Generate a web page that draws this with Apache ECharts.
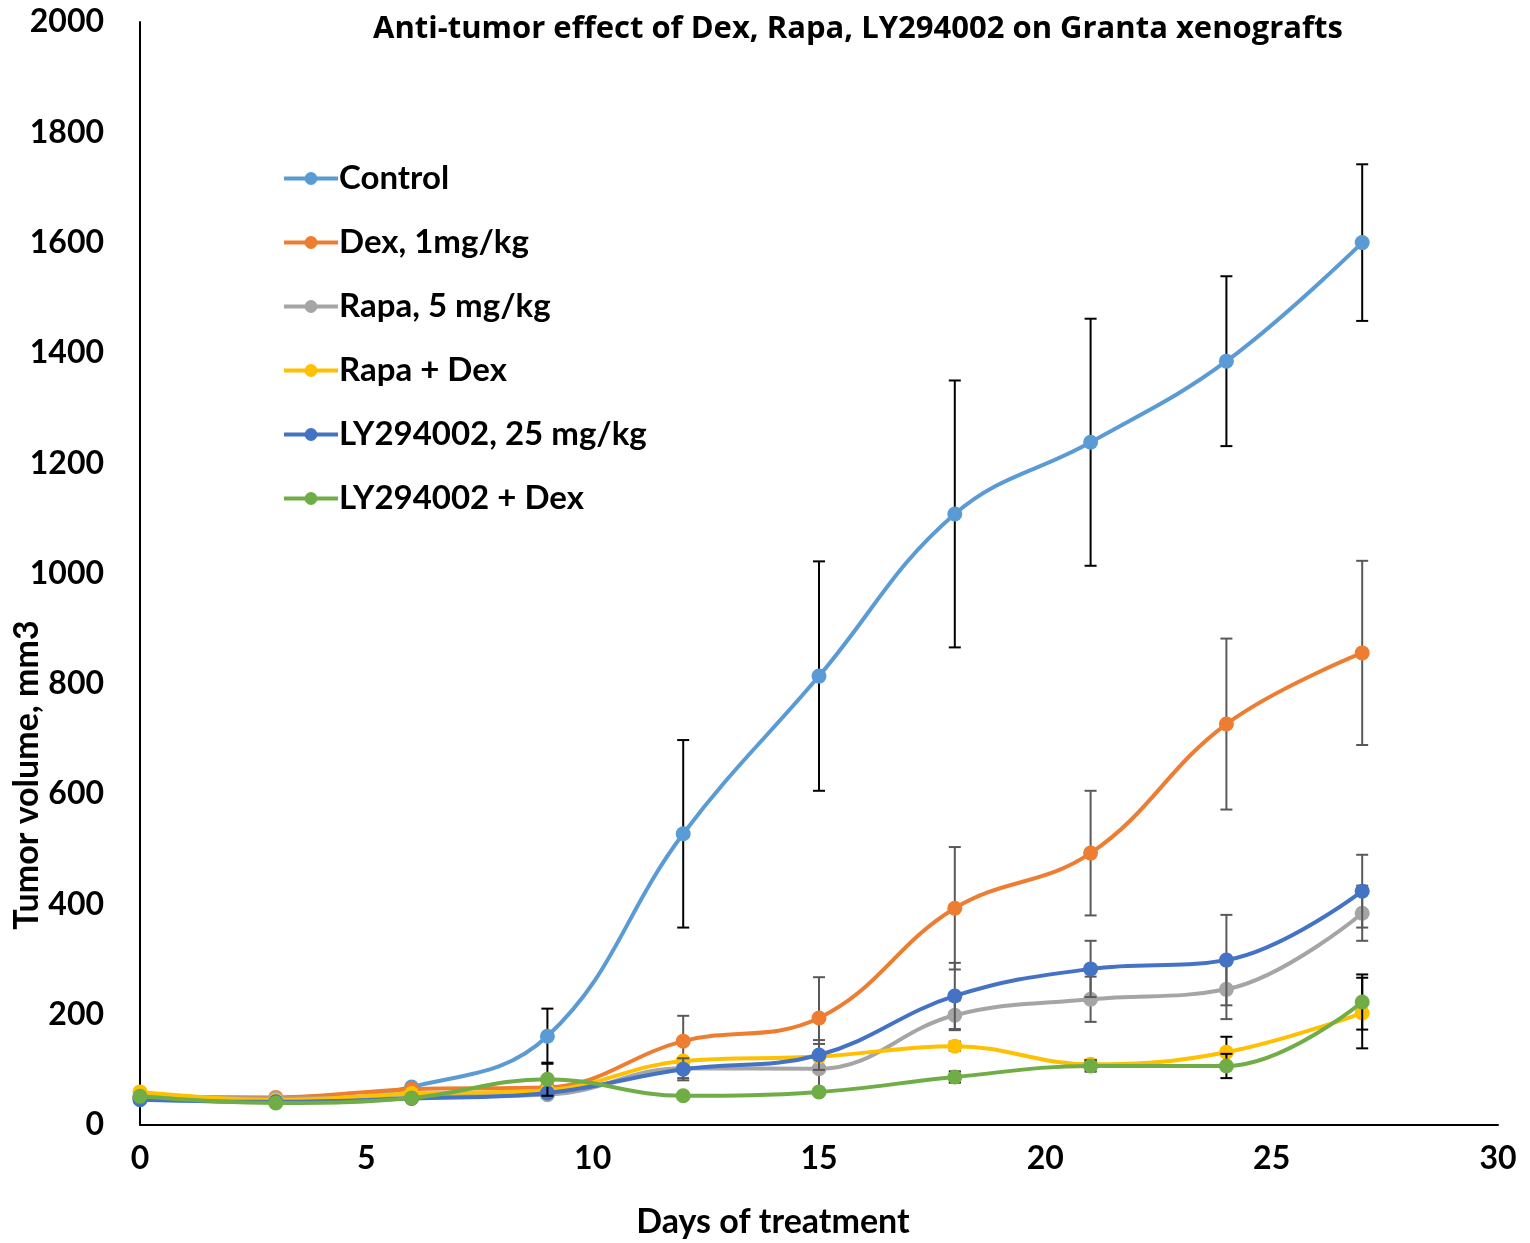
<!DOCTYPE html>
<html><head><meta charset="utf-8">
<script src="https://cdn.jsdelivr.net/npm/echarts@6/dist/echarts.min.js"></script>
<style>html,body{margin:0;padding:0;background:#fff}#c{width:1530px;height:1243px}</style>
</head><body><div id="c"></div>
<script>
var days = [0, 3, 6, 9, 12, 15, 18, 21, 24, 27];
var seriesNames = ['Control', 'Dex, 1mg/kg', 'Rapa, 5 mg/kg', 'Rapa + Dex', 'LY294002, 25 mg/kg', 'LY294002 + Dex'];
var control    = [48, 42, 69, 161, 528, 814, 1108, 1238, 1385, 1600];
var controlErr = [0, 0, 0, 50, 170, 208, 242, 224, 154, 142];
var dex        = [52, 50, 65, 68, 152, 194, 393, 493, 727, 856];
var dexErr     = [0, 0, 0, 0, 46, 74, 111, 113, 155, 167];
var rapa       = [52, 48, 52, 55, 103, 102, 199, 228, 246, 384];
var rapaErr    = [0, 0, 0, 0, 18, 45, 27, 41, 54, 50];
var rapaDex    = [60, 45, 57, 63, 116, 124, 143, 110, 132, 203];
var rapaDexErr = [0, 0, 0, 0, 0, 0, 8, 8, 28, 64];
var ly         = [46, 42, 48, 58, 101, 127, 234, 283, 299, 424];
var lyErr      = [0, 0, 0, 0, 20, 27, 60, 51, 82, 66];
var lyDex      = [52, 40, 49, 83, 53, 60, 87, 107, 107, 223];
var lyDexErr   = [0, 0, 0, 30, 0, 0, 10, 10, 22, 50];
var yTicks = [0, 200, 400, 600, 800, 1000, 1200, 1400, 1600, 1800, 2000];
var xTicks = [0, 5, 10, 15, 20, 25, 30];

var colors = ['#5B9BD5', '#ED7D31', '#A5A5A5', '#FFC000', '#4472C4', '#70AD47'];
var errColors = ['#000000', '#595959', '#595959', '#000000', '#595959', '#000000'];
var values = [control, dex, rapa, rapaDex, ly, lyDex];
var errs = [controlErr, dexErr, rapaErr, rapaDexErr, lyErr, lyDexErr];
var FONT = 'Lato';

var chart = echarts.init(document.getElementById('c'), null, {renderer: 'canvas'});
var series = [];
values.forEach(function (vals, k) {
  series.push({
    type: 'custom',
    name: seriesNames[k] + ' err',
    silent: true,
    z: 2 + k * 2,
    renderItem: function (params, api) {
      var x = api.value(0), lo = api.value(1), hi = api.value(2);
      if (hi === lo) return null;
      var p1 = api.coord([x, hi]), p2 = api.coord([x, lo]);
      var w = 6;
      var st = {stroke: errColors[k], lineWidth: 2};
      return {type: 'group', children: [
        {type: 'line', shape: {x1: p1[0], y1: p1[1], x2: p2[0], y2: p2[1]}, style: st},
        {type: 'line', shape: {x1: p1[0] - w, y1: p1[1], x2: p1[0] + w, y2: p1[1]}, style: st},
        {type: 'line', shape: {x1: p2[0] - w, y1: p2[1], x2: p2[0] + w, y2: p2[1]}, style: st}
      ]};
    },
    data: days.map(function (d, i) { return [d, vals[i] - errs[k][i], vals[i] + errs[k][i]]; })
  });
  series.push({
    type: 'line',
    name: seriesNames[k],
    z: 3 + k * 2,
    smooth: 0.4,
    symbol: 'circle',
    symbolSize: 15,
    showAllSymbol: true,
    lineStyle: {width: 4, color: colors[k]},
    itemStyle: {color: colors[k]},
    data: days.map(function (d, i) { return [d, vals[i]]; })
  });
});

chart.setOption({
  animation: false,
  backgroundColor: '#fff',
  color: colors,
  grid: {left: 140, right: 32, top: 22, bottom: 118, containLabel: false},
  title: {
    text: 'Anti-tumor effect of Dex, Rapa, LY294002 on Granta xenografts',
    left: 853, top: 9, textAlign: 'center',
    textStyle: {fontFamily: 'Open Sans', fontWeight: 'bold', fontSize: 31, color: '#000'}
  },
  legend: {
    data: seriesNames,
    orient: 'vertical',
    left: 282, top: 162,
    padding: 0,
    itemWidth: 54, itemHeight: 16,
    itemGap: 31,
    lineStyle: {width: 4},
    textStyle: {fontFamily: FONT, fontWeight: 'bold', fontSize: 33, color: '#000', padding: [0, 0, 0, -4]}
  },
  xAxis: {
    type: 'value', min: 0, max: 30, interval: 5,
    axisLine: {lineStyle: {color: '#000', width: 2}},
    axisTick: {show: false},
    splitLine: {show: false},
    axisLabel: {fontFamily: FONT, fontWeight: 'bold', fontSize: 32, color: '#000', margin: 18}
  },
  yAxis: {
    type: 'value', min: 0, max: 2000, interval: 200,
    axisLine: {show: true, lineStyle: {color: '#000', width: 2}},
    axisTick: {show: false},
    splitLine: {show: false},
    axisLabel: {fontFamily: FONT, fontWeight: 'bold', fontSize: 32, color: '#000', margin: 36,
      formatter: function (v) { return String(v); }}
  },
  graphic: [
    {type: 'text', x: 773, y: 1205,
     style: {text: 'Days of treatment', font: 'bold 34px ' + FONT, fill: '#000', textAlign: 'center'}},
    {type: 'text', rotation: Math.PI / 2, x: 10, y: 775,
     style: {text: 'Tumor volume, mm3', font: 'bold 34px ' + FONT, fill: '#000', textAlign: 'center', textVerticalAlign: 'top'}}
  ],
  series: series
});
</script></body></html>
